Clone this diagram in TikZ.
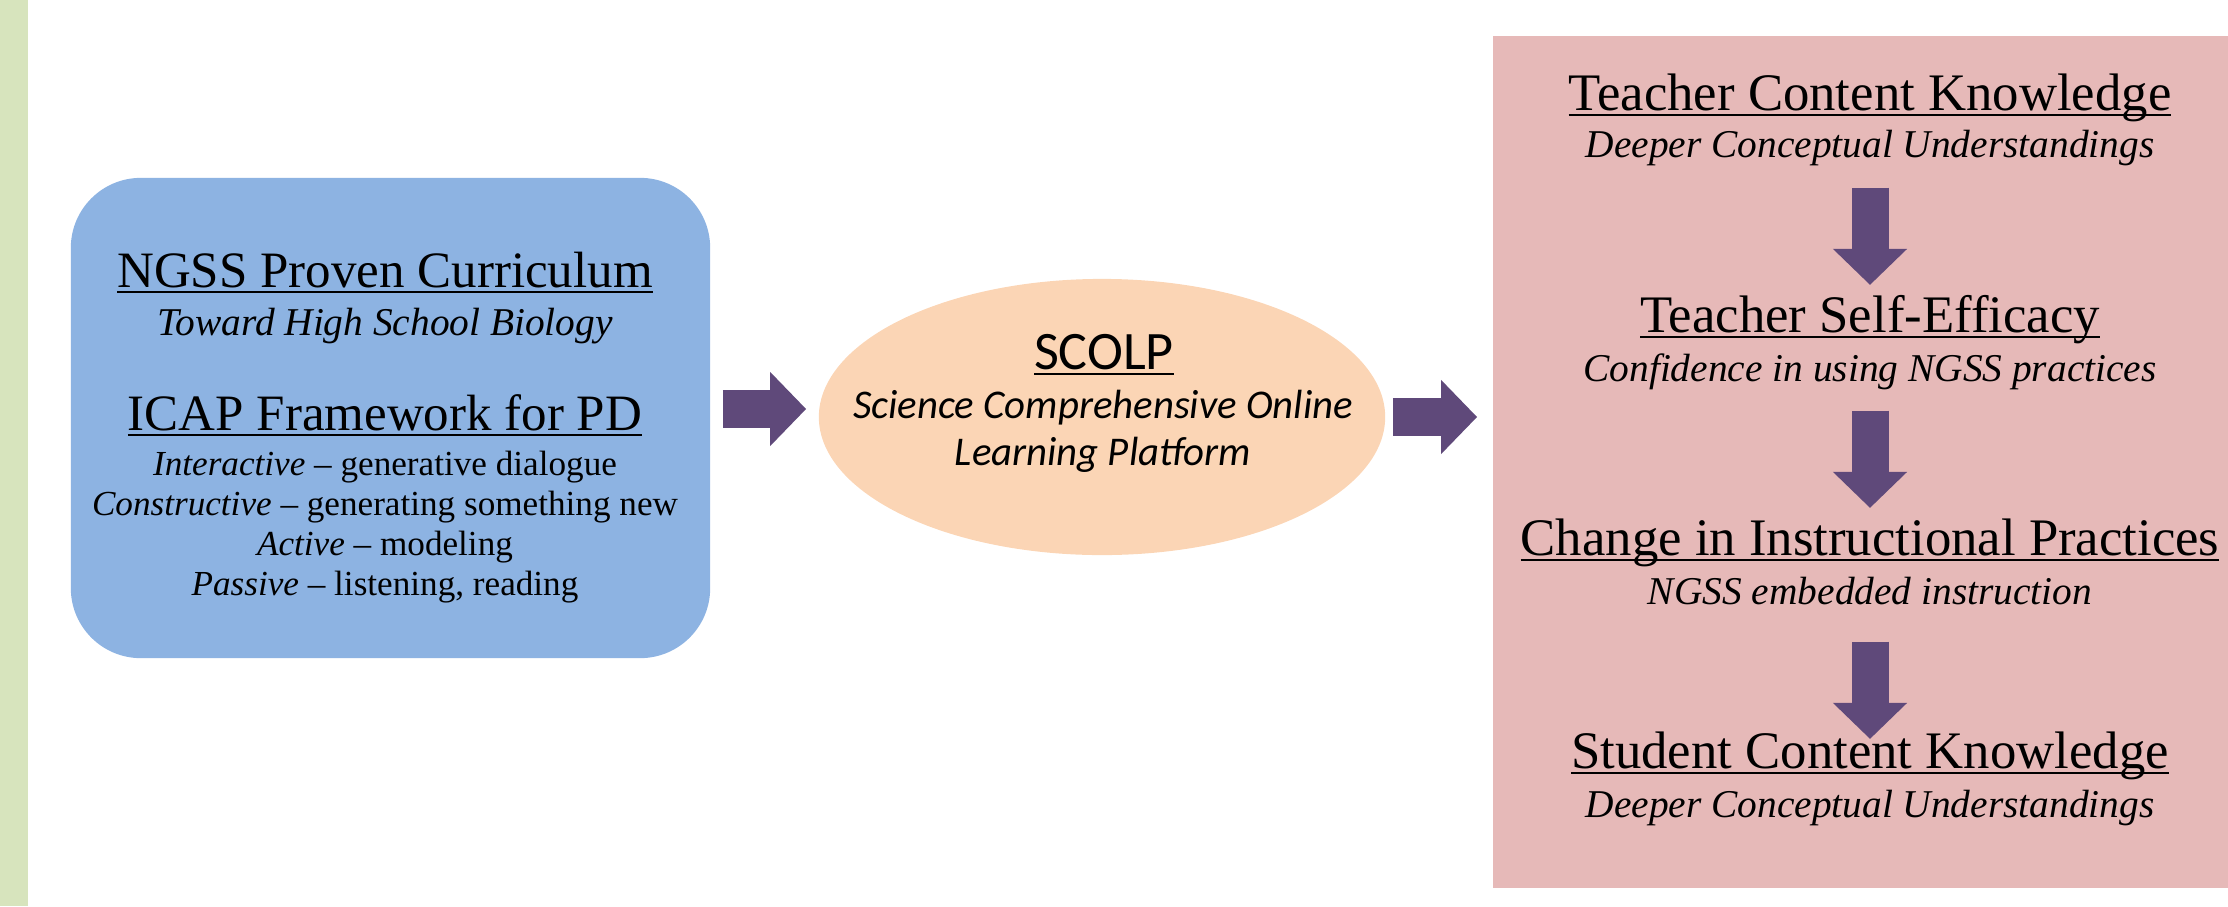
\documentclass[tikz,border=0pt]{standalone}
\usepackage{fontspec}
\setmainfont{Liberation Serif}
\newfontfamily\scolpfont{Carlito}
\usetikzlibrary{shapes.geometric, arrows.meta, calc}
\definecolor{StripGreen}{HTML}{D7E4BD}
\definecolor{BoxBlue}{HTML}{8DB3E2}
\definecolor{BoxPeach}{HTML}{FBD5B5}
\definecolor{BoxPink}{HTML}{E6B9B8}
\definecolor{ArrowPurple}{HTML}{5F497A}
\newcommand{\titleline}[1]{\underline{\smash{#1}}}

\begin{document}
\begin{tikzpicture}[x=0.01cm, y=-0.01cm,
    fat/.style={ArrowPurple, line width=0.37cm, -{Triangle[length=0.36cm, width=0.72cm]}},
    titletext/.style={anchor=base, inner sep=0pt, text height=0.75em, font=\fontsize{15}{18}\selectfont},
    subtext/.style={anchor=base, inner sep=0pt, text depth=0.25em, font=\fontsize{11.2}{13}\selectfont\itshape},
    bodytext/.style={anchor=base, inner sep=0pt, font=\fontsize{10}{12}\selectfont}]
    \useasboundingbox (0,0) rectangle (2228,906);
    \fill[StripGreen] (0,0) rectangle (28,906);

    % left: curriculum and PD framework
    \node[fill=BoxBlue, rounded corners=0.7cm, minimum width=6.39cm, minimum height=4.8cm] (curr) at (390.5,418) {};
    \node[titletext, font=\fontsize{14.5}{17}\selectfont] (ngss) at (385,287) {\titleline{NGSS Proven Curriculum}};
    \node[subtext] (ngssSub) at (385,335) {Toward High School Biology};
    \node[titletext, font=\fontsize{14.5}{17}\selectfont] (icap) at (385,430) {\titleline{ICAP Framework for PD}};
    \foreach \mode/\what [count=\k] in {Interactive/generative dialogue, Constructive/generating something new, Active/modeling, Passive/{listening, reading}} {
        \node[bodytext] (icap\k) at (385,435+40*\k) {\textit{\mode} -- \what};
    }

    % middle: the platform
    \node[ellipse, fill=BoxPeach, minimum width=5.66cm, minimum height=2.76cm] (scolp) at (1102,417) {};
    \node[anchor=base, inner sep=0pt, font=\scolpfont\fontsize{15.4}{17}\selectfont] (scolpTitle) at (1104,369) {\titleline{SCOLP}};
    \node[anchor=base, inner sep=0pt, font=\scolpfont\fontsize{11.6}{14}\selectfont\itshape] (scolpA) at (1103,418) {Science Comprehensive Online};
    \node[anchor=base, inner sep=0pt, font=\scolpfont\fontsize{11.6}{14}\selectfont\itshape] (scolpB) at (1103,465) {Learning Platform};

    % right: outcomes
    \node[fill=BoxPink, minimum width=7.35cm, minimum height=8.52cm, inner sep=0pt] (goals) at (1860.5,462) {};
    \node[titletext] (tck) at (1870,110) {\titleline{Teacher Content Knowledge}};
    \node[subtext] (tckSub) at (1870,157) {Deeper Conceptual Understandings};
    \node[titletext] (tse) at (1870,332) {\titleline{Teacher Self-Efficacy}};
    \node[subtext] (tseSub) at (1870,381) {Confidence in using NGSS practices};
    \node[titletext] (cip) at (1870,555) {\titleline{Change in Instructional Practices}};
    \node[subtext] (cipSub) at (1870,604) {NGSS embedded instruction};
    \node[titletext] (sck) at (1870,768) {\titleline{Student Content Knowledge}};
    \node[subtext] (sckSub) at (1870,817) {Deeper Conceptual Understandings};

    % arrows
    \draw[fat] ($(curr.east)+(12,-9)$) -- ($(scolp.west)+(-12,-8)$);
    \draw[fat] ($(scolp.east)+(7,0)$) -- ($(goals.west)+(-15,-45)$);
    \foreach \a/\b/\s/\t in {tckSub/tse/0.21/0.2, tseSub/cip/0.2/0.2, cipSub/sck/0.28/0.02} {
        \draw[fat, shorten <=\s cm, shorten >=\t cm] (\a.south) -- (\b.north);
    }
\end{tikzpicture}
\end{document}
